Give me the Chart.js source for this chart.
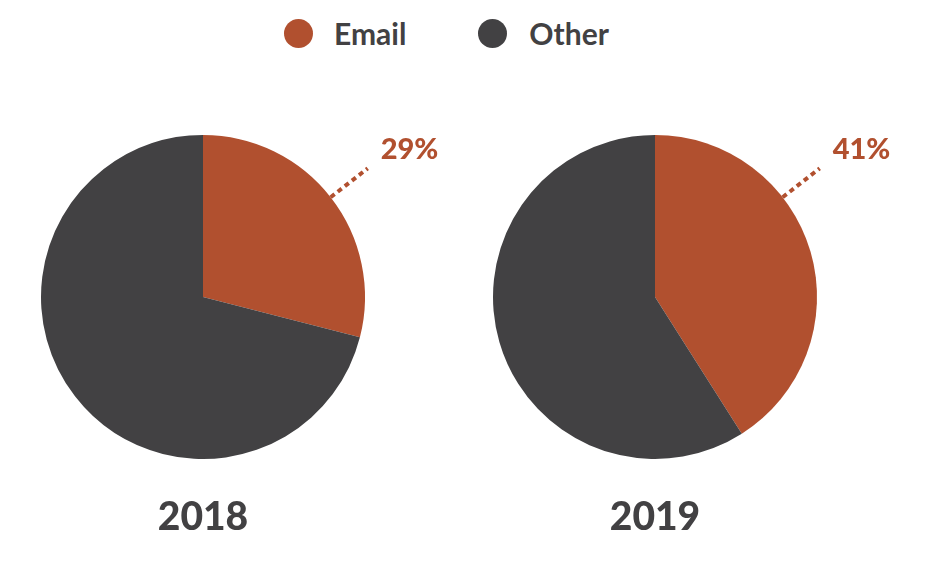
<!DOCTYPE html>
<html>
<head>
<meta charset="utf-8">
<script src="https://cdn.jsdelivr.net/npm/chart.js@4.4.1/dist/chart.umd.min.js"></script>
<style>
  html, body { margin: 0; padding: 0; background: #fff; }
  body { width: 926px; height: 570px; position: relative; overflow: hidden; font-family: Lato, "DejaVu Sans", sans-serif; }
  .pie { position: absolute; top: 0; width: 463px; height: 570px; }
  #legend { position: absolute; top: 15px; left: 284px; display: flex; align-items: center; color: #424143; font-weight: 700; font-size: 30px; }
  #legend .item { display: flex; align-items: center; }
  #legend .dot { width: 29px; height: 29px; border-radius: 50%; display: inline-block; }
</style>
</head>
<body>
<div id="legend"></div>
<div class="pie" style="left:0"><canvas id="pie2018"></canvas></div>
<div class="pie" style="left:463px"><canvas id="pie2019"></canvas></div>
<script>
const years = ['2018', '2019'];
const categories = ['Email', 'Other'];
const emailShare = [29, 41];
const otherShare = [71, 59];
const colors = ['#b1502f', '#424143'];

// legend
const legend = document.getElementById('legend');
categories.forEach((c, i) => {
  const item = document.createElement('div');
  item.className = 'item';
  item.style.marginRight = i === 0 ? '72px' : '0';
  item.innerHTML = `<span class="dot" style="background:${colors[i]}"></span><span style="margin-left:${i === 0 ? 21 : 22}px">${c}</span>`;
  legend.appendChild(item);
});

const LEADER_ANGLE = 52 * Math.PI / 180; // from top, clockwise

const labelPlugin = {
  id: 'labels',
  afterDraw(chart) {
    const ctx = chart.ctx;
    const arc = chart.getDatasetMeta(0).data[0];
    const cx = arc.x, cy = arc.y, r = arc.outerRadius;
    const sx = cx + r * Math.sin(LEADER_ANGLE), sy = cy - r * Math.cos(LEADER_ANGLE);
    const ex = cx + (r + 47) * Math.sin(LEADER_ANGLE), ey = cy - (r + 47) * Math.cos(LEADER_ANGLE);
    ctx.save();
    ctx.strokeStyle = colors[0];
    ctx.lineWidth = 4;
    ctx.setLineDash([5, 4]);
    ctx.beginPath();
    ctx.moveTo(sx, sy);
    ctx.lineTo(ex, ey);
    ctx.stroke();
    ctx.setLineDash([]);

    const val = chart.data.datasets[0].data[0];
    ctx.fillStyle = colors[0];
    ctx.font = '900 29px Lato, "DejaVu Sans", sans-serif';
    ctx.textAlign = 'left';
    ctx.textBaseline = 'middle';
    ctx.fillText(val + '%', ex + 13, ey - 19);

    ctx.fillStyle = '#424143';
    ctx.font = '900 39px Lato, "DejaVu Sans", sans-serif';
    ctx.textAlign = 'center';
    ctx.fillText(chart.options.plugins.yearLabel, cx, cy + r + 58);
    ctx.restore();
  }
};

function makePie(id, idx, padLeft, padRight) {
  new Chart(document.getElementById(id), {
    type: 'pie',
    data: {
      labels: categories,
      datasets: [{
        data: [emailShare[idx], otherShare[idx]],
        backgroundColor: colors,
        borderWidth: 0
      }]
    },
    options: {
      responsive: true,
      maintainAspectRatio: false,
      animation: false,
      layout: { padding: { left: padLeft, right: padRight, top: 135, bottom: 111 } },
      plugins: {
        legend: { display: false },
        tooltip: { enabled: false },
        yearLabel: years[idx]
      }
    },
    plugins: [labelPlugin]
  });
}

makePie('pie2018', 0, 41, 98);
makePie('pie2019', 1, 30, 109);
</script>
</body>
</html>
